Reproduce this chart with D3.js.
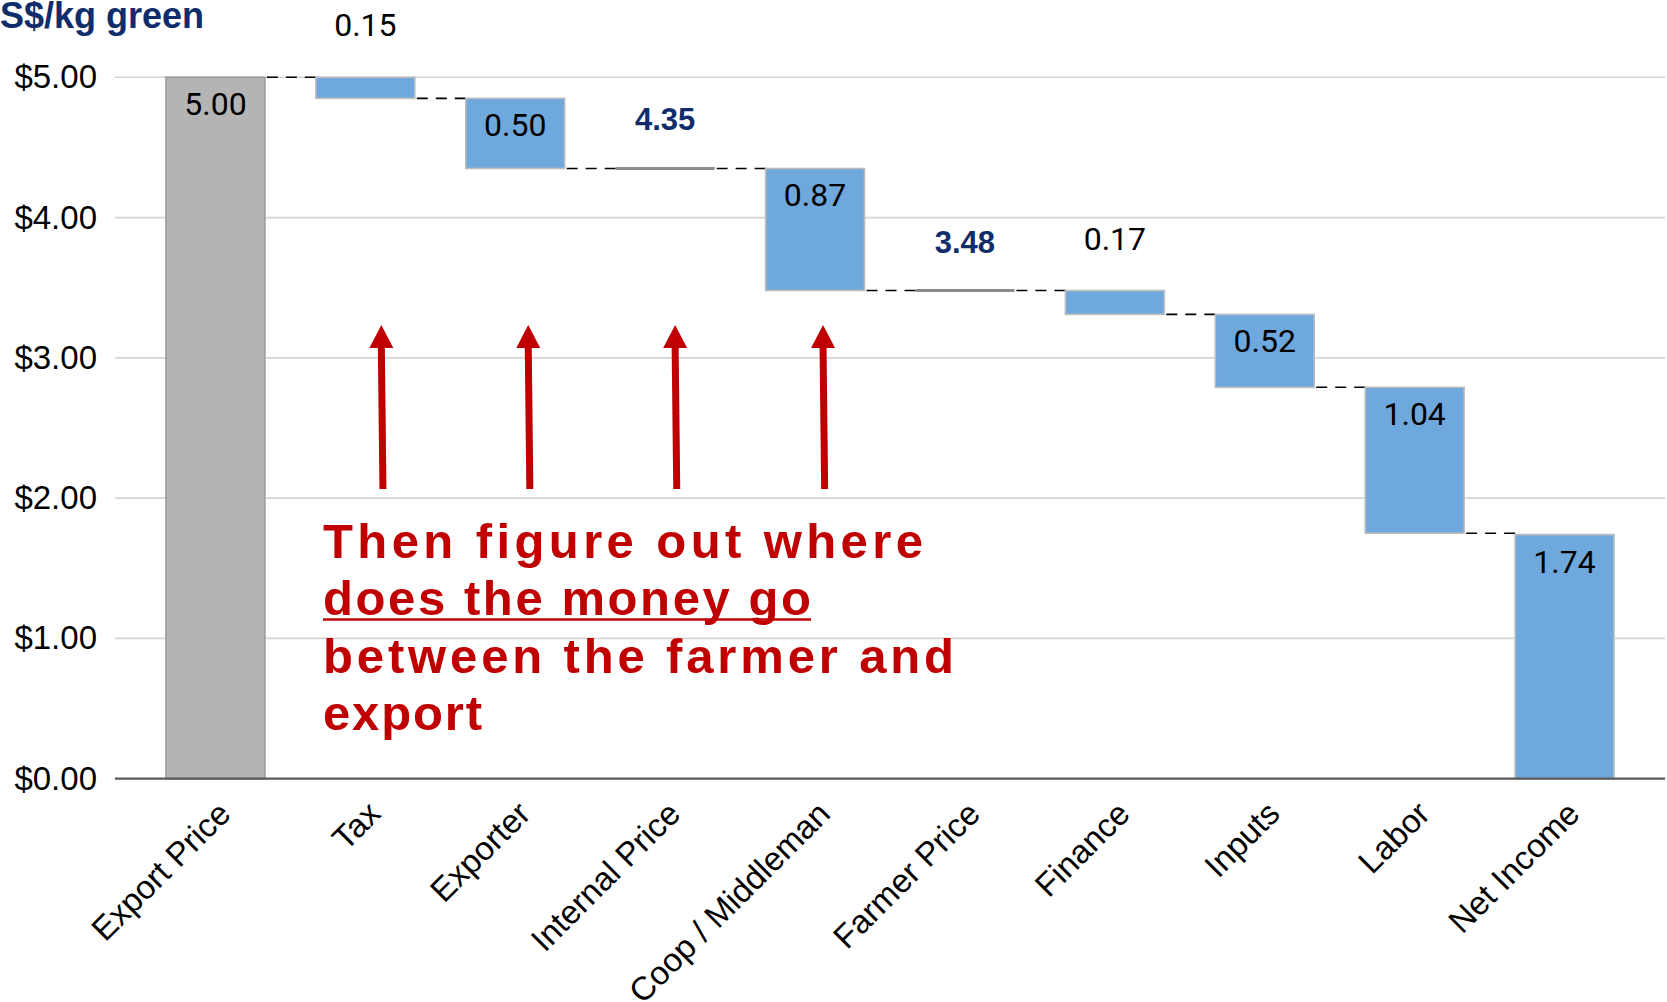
<!DOCTYPE html>
<html>
<head>
<meta charset="utf-8">
<script src="https://cdn.jsdelivr.net/npm/d3@7"></script>
<style>
  html, body { margin: 0; padding: 0; background: #ffffff; }
  svg { display: block; }
</style>
</head>
<body>
<svg id="chart" width="1667" height="1002"></svg>
<script>
// ---------- data ----------
const categories = ["Export Price", "Tax", "Exporter", "Internal Price", "Coop / Middleman",
                    "Farmer Price", "Finance", "Inputs", "Labor", "Net Income"];
const values = [5.00, 0.15, 0.50, 4.35, 0.87, 3.48, 0.17, 0.52, 1.04, 1.74];
const kinds = ["total", "decrease", "decrease", "subtotal", "decrease",
               "subtotal", "decrease", "decrease", "decrease", "net"];
const yTickValues = [0, 1, 2, 3, 4, 5];
const yTickLabels = ["$0.00", "$1.00", "$2.00", "$3.00", "$4.00", "$5.00"];
const titleText = "S$/kg green";
const noteLines = ["Then figure out where", "does the money go", "between the farmer and", "export"];
const arrowCategories = ["Tax", "Exporter", "Internal Price", "Coop / Middleman"];

// ---------- layout ----------
const plotLeft = 115, plotRight = 1665;
const yZero = 778.7, yTop = 77.3;

const svg = d3.select("#chart");

const x = d3.scaleBand().domain(categories).range([plotLeft, plotRight])
  .paddingInner(0.34).paddingOuter(0.34);
const y = d3.scaleLinear().domain([0, 5]).range([yZero, yTop]);

// running waterfall computation
let level = 0;
const bars = categories.map((c, i) => {
  const v = values[i], k = kinds[i];
  let start, end;
  if (k === "total" || k === "net") { start = 0; end = v; level = v; }
  else if (k === "subtotal") { start = v; end = v; level = v; }
  else { start = level; end = level - v; level = end; }
  return { cat: c, value: v, kind: k, start, end, top: Math.max(start, end), bottom: Math.min(start, end) };
});

// ---------- gridlines ----------
svg.append("g").selectAll("line.grid")
  .data(yTickValues.filter(v => v > 0))
  .join("line")
  .attr("x1", plotLeft).attr("x2", plotRight)
  .attr("y1", d => y(d)).attr("y2", d => y(d))
  .attr("stroke", "#d4d4d4").attr("stroke-width", 1.6);

// ---------- y axis ----------
const yAxis = d3.axisLeft(y).tickValues(yTickValues)
  .tickFormat((d, i) => yTickLabels[i]).tickSize(0).tickPadding(18);
const yg = svg.append("g").attr("transform", `translate(${plotLeft},0)`).call(yAxis);
yg.select(".domain").remove();
yg.selectAll("text")
  .attr("font-family", "'Liberation Sans', Arial, sans-serif")
  .attr("font-size", 33).attr("fill", "#000");

// ---------- connectors ----------
const conn = [];
for (let i = 0; i < bars.length - 1; i++) {
  conn.push({ x1: x(bars[i].cat) + x.bandwidth(), x2: x(bars[i + 1].cat), v: bars[i].end });
}
svg.append("g").selectAll("line.conn").data(conn).join("line")
  .attr("x1", d => d.x1 + 2).attr("x2", d => d.x2)
  .attr("y1", d => y(d.v)).attr("y2", d => y(d.v))
  .attr("stroke", "#000").attr("stroke-width", 1.6)
  .attr("stroke-dasharray", "11,8");

// ---------- bars ----------
const barData = bars.filter(b => b.kind !== "subtotal");
svg.append("g").selectAll("rect.bar").data(barData).join("rect")
  .attr("x", d => x(d.cat))
  .attr("width", x.bandwidth())
  .attr("y", d => y(d.top))
  .attr("height", d => y(d.bottom) - y(d.top))
  .attr("fill", d => d.kind === "total" ? "#b4b4b4" : "#6fa8dc")
  .attr("stroke", d => d.kind === "total" ? "#9c9c9c" : "#bdbdbd")
  .attr("stroke-width", 1.6);

// subtotal markers
const subData = bars.filter(b => b.kind === "subtotal");
svg.append("g").selectAll("line.sub").data(subData).join("line")
  .attr("x1", d => x(d.cat)).attr("x2", d => x(d.cat) + x.bandwidth())
  .attr("y1", d => y(d.value)).attr("y2", d => y(d.value))
  .attr("stroke", "#8c8c8c").attr("stroke-width", 3);

// ---------- axis line ----------
svg.append("line")
  .attr("x1", plotLeft).attr("x2", plotRight)
  .attr("y1", y(0)).attr("y2", y(0))
  .attr("stroke", "#595959").attr("stroke-width", 2.2);

// ---------- data labels ----------
const fmt = d3.format(".2f");
svg.append("g").selectAll("text.lbl").data(bars).join("text")
  .attr("x", d => x(d.cat) + x.bandwidth() / 2)
  .attr("y", d => {
    if (d.kind === "subtotal") return y(d.value) - 38;
    const hpx = y(d.bottom) - y(d.top);
    return hpx < 40 ? y(d.top) - 41 : y(d.top) + 38;
  })
  .attr("text-anchor", "middle")
  .attr("font-family", d => d.kind === "subtotal" ? "'Liberation Sans', Arial, sans-serif" : "Roboto, sans-serif")
  .attr("font-weight", d => d.kind === "subtotal" ? "bold" : "normal")
  .attr("font-size", d => d.kind === "subtotal" ? 31 : 32)
  .attr("fill", d => d.kind === "subtotal" ? "#0f2d6b" : "#000")
  .text(d => fmt(d.value));

// ---------- x axis (category labels) ----------
const xAxis = d3.axisBottom(x).tickSize(0).tickPadding(0);
const xg = svg.append("g").attr("transform", `translate(0,${yZero})`).call(xAxis);
xg.select(".domain").remove();
xg.selectAll("text")
  .attr("font-family", "'Liberation Sans', Arial, sans-serif")
  .attr("font-size", 33).attr("fill", "#000")
  .attr("text-anchor", "end")
  .attr("dy", 0).attr("y", 0)
  .attr("transform", "translate(17,37) rotate(-45)");

// ---------- title ----------
svg.append("text")
  .attr("x", 0).attr("y", 28)
  .attr("font-family", "'Liberation Sans', Arial, sans-serif")
  .attr("font-weight", "bold").attr("font-size", 36)
  .attr("fill", "#0f2d6b")
  .text(titleText);

// ---------- annotation arrows ----------
const red = "#c00000";
const arrowOffsets = [16, 13, 10, 8];
const arrowTipY = 325, arrowHeadBase = 348, arrowTailY = 489;
const ag = svg.append("g");
arrowCategories.forEach((c, i) => {
  const cx = x(c) + x.bandwidth() / 2 + arrowOffsets[i];
  ag.append("line")
    .attr("x1", cx + 1.6).attr("y1", arrowTailY)
    .attr("x2", cx).attr("y2", arrowHeadBase - 1)
    .attr("stroke", red).attr("stroke-width", 7);
  ag.append("path")
    .attr("d", `M${cx},${arrowTipY} L${cx + 12},${arrowHeadBase} L${cx - 12},${arrowHeadBase} Z`)
    .attr("fill", red);
});

// ---------- annotation text ----------
const noteX = 323;
const noteBaselines = [558, 615, 673, 730];
const noteWidths = [600, 488, 631, 159];
const tg = svg.append("g")
  .attr("font-family", "'Liberation Sans Narrow', 'Liberation Sans', Arial, sans-serif")
  .attr("font-weight", "bold").attr("font-size", 49).attr("fill", red);
noteLines.forEach((t, i) => {
  tg.append("text")
    .attr("x", noteX).attr("y", noteBaselines[i])
    .attr("textLength", noteWidths[i]).attr("lengthAdjust", "spacing")
    .text(t);
});
svg.append("line")
  .attr("x1", noteX).attr("x2", noteX + noteWidths[1])
  .attr("y1", 619.5).attr("y2", 619.5)
  .attr("stroke", red).attr("stroke-width", 2.6);
</script>
</body>
</html>
